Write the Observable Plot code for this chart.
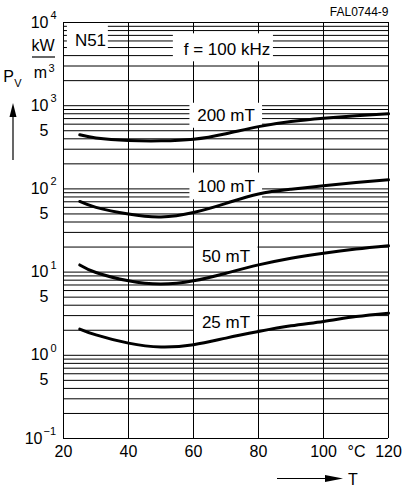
<!DOCTYPE html>
<html>
<head>
<meta charset="utf-8">
<script src="https://cdn.jsdelivr.net/npm/d3@7"></script>
<script src="https://cdn.jsdelivr.net/npm/@observablehq/plot@0.6"></script>
<style>
  html, body { margin: 0; padding: 0; background: #fff; }
  #chart svg { display: block; }
</style>
</head>
<body>
<div id="chart"></div>
<script>
// ---- data ----
const temperatures = [25, 30, 40, 50, 60, 70, 80, 90, 100, 110, 120];   // °C
const pv200mT = [447, 410, 382, 378, 395, 460, 560, 645, 706, 757, 800];  // kW/m³
const pv100mT = [70.6, 60, 49.8, 46, 52, 67, 87, 99, 109, 119, 128.5];
const pv50mT  = [12.2, 9.9, 7.85, 7.17, 7.85, 9.7, 12.2, 14.7, 16.9, 18.9, 20.7];
const pv25mT  = [2.07, 1.76, 1.40, 1.26, 1.34, 1.61, 1.93, 2.26, 2.55, 2.92, 3.21];

const seriesNames  = ["200 mT", "100 mT", "50 mT", "25 mT"];
const seriesValues = [pv200mT, pv100mT, pv50mT, pv25mT];
const labelT  = [70, 70, 70, 70];
const labelPv = [757, 107, 15.4, 2.46];

const xTicks = [20, 40, 60, 80, 100, 120];
const decadeExponents = [-1, 0, 1, 2, 3, 4];
const exponentLabels = ["\u22121", "0", "1", "2", "3", "4"];
const mantissas = [1, 2, 3, 4, 5, 6, 7, 8, 9];
const fiveTicks = [0.5, 5, 50, 500];

const materialLabel = "N51";
const frequencyLabel = "f = 100 kHz";
const figureId = "FAL0744-9";

// ---- derived tables ----
const rows = seriesNames.flatMap((name, i) =>
  temperatures.map((t, j) => ({series: name, T: t, Pv: seriesValues[i][j]})));
const yGrid = decadeExponents.slice(0, -1)
  .flatMap(e => mantissas.map(m => m * 10 ** e)).concat([10 ** 4]);
const decades = decadeExponents.map((e, i) => ({v: 10 ** e, exp: exponentLabels[i], neg: e < 0}));

// label boxes (half width in °C, vertical factor)
const boxHalfW = [11.1, 11.1, 9.7, 9.7];
const boxFactor = [1.413, 1.45, 1.394, 1.394];
const curveLabels = seriesNames.map((n, i) => ({label: n, T: labelT[i], Pv: labelPv[i]}));
const boxes = curveLabels.map((d, i) => ({
  x1: d.T - boxHalfW[i], x2: d.T + boxHalfW[i] + 0.15,
  y1: d.Pv / boxFactor[i], y2: d.Pv * boxFactor[i]
}));
boxes.push({x1: 21.2, x2: 33.8, y1: 4700, y2: 9650});     // N51 box
boxes.push({x1: 53.8, x2: 84.6, y1: 3370, y2: 7310});     // f = 100 kHz box

const axisFont = "'Liberation Sans', Arial, Helvetica, sans-serif";
const labelFont = "'Liberation Sans', Arial, Helvetica, sans-serif";
const AX = 16;   // axis text size

const t = (extra) => Object.assign({text: d => d, lineAnchor: "middle", textAnchor: "middle",
  fontSize: AX, fontFamily: axisFont, fill: "#000"}, extra);

const chart = Plot.plot({
  width: 408,
  height: 488,
  marginLeft: 63,
  marginRight: 20,
  marginTop: 22,
  marginBottom: 50,
  x: {domain: [20, 120], axis: null},
  y: {type: "log", domain: [0.1, 10000], axis: null},
  marks: [
    Plot.ruleY(yGrid, {stroke: "#000", strokeWidth: 1}),
    Plot.ruleX(xTicks, {stroke: "#000", strokeWidth: 1}),
    Plot.rect(boxes, {x1: "x1", x2: "x2", y1: "y1", y2: "y2", fill: "#fff"}),
    Plot.line(rows, {x: "T", y: "Pv", z: "series", stroke: "#000", strokeWidth: 3, curve: "natural"}),
    Plot.text(curveLabels, {x: "T", y: "Pv", text: "label", fontSize: 17, fontFamily: labelFont, fill: "#000"}),
    Plot.text([materialLabel], {x: () => 28.3, y: () => 6030, text: d => d, fontSize: 17, fontFamily: labelFont}),
    Plot.text([frequencyLabel], {x: () => 70.3, y: () => 4700, text: d => d, fontSize: 17, fontFamily: labelFont}),
    // x tick labels
    Plot.text(xTicks, t({x: d => d, frameAnchor: "bottom", dy: 13, text: d => String(d)})),
    Plot.text(["\u00b0C"], t({frameAnchor: "bottom-left", dx: 293, dy: 13})),
    // y decade labels
    Plot.text(decades.filter(d => !d.neg), t({y: "v", frameAnchor: "left", dx: -15, text: () => "10", textAnchor: "end"})),
    Plot.text(decades.filter(d => !d.neg), t({y: "v", frameAnchor: "left", dx: -13, dy: -7, text: "exp", textAnchor: "start", fontSize: 11})),
    Plot.text(decades.filter(d => d.neg), t({y: "v", frameAnchor: "left", dx: -21, text: () => "10", textAnchor: "end"})),
    Plot.text(decades.filter(d => d.neg), t({y: "v", frameAnchor: "left", dx: -20, dy: -7, text: "exp", textAnchor: "start", fontSize: 11})),
    Plot.text(fiveTicks, t({y: d => d, frameAnchor: "left", dx: -19.5, text: () => "5"})),
    // unit kW / m³
    Plot.text(["kW"], t({frameAnchor: "top-left", dx: -20.5, dy: 23.5})),
    Plot.text(["m"], t({frameAnchor: "top-left", dx: -23, dy: 50})),
    Plot.text(["3"], t({frameAnchor: "top-left", dx: -15, dy: 46, textAnchor: "start", fontSize: 11})),
    // axis titles
    Plot.text(["P"], t({frameAnchor: "top-left", dx: -55, dy: 54})),
    Plot.text(["V"], t({frameAnchor: "top-left", dx: -45.5, dy: 61, fontSize: 11})),
    Plot.text(["T"], t({frameAnchor: "bottom-left", dx: 289.5, dy: 41.5})),
    Plot.text([figureId], t({frameAnchor: "top-right", dy: -10, textAnchor: "end", fontSize: 12, fontFamily: labelFont}))
  ]
});

// decorations: axis-title arrows and the unit fraction bar
const svg = d3.select(chart);
const deco = svg.append("g").attr("stroke", "#000").attr("fill", "#000");
deco.append("line").attr("x1", 13).attr("x2", 13).attr("y1", 160).attr("y2", 114).attr("stroke-width", 1.2);
deco.append("polygon").attr("points", "13,103 9.5,117 16.5,117").attr("stroke", "none");
deco.append("line").attr("x1", 277).attr("x2", 330).attr("y1", 478.5).attr("y2", 478.5).attr("stroke-width", 1.2);
deco.append("polygon").attr("points", "343,478.5 325,475 325,482").attr("stroke", "none");
deco.append("line").attr("x1", 32).attr("x2", 55).attr("y1", 57).attr("y2", 57).attr("stroke-width", 1.2);

document.getElementById("chart").appendChild(chart);
</script>
</body>
</html>
